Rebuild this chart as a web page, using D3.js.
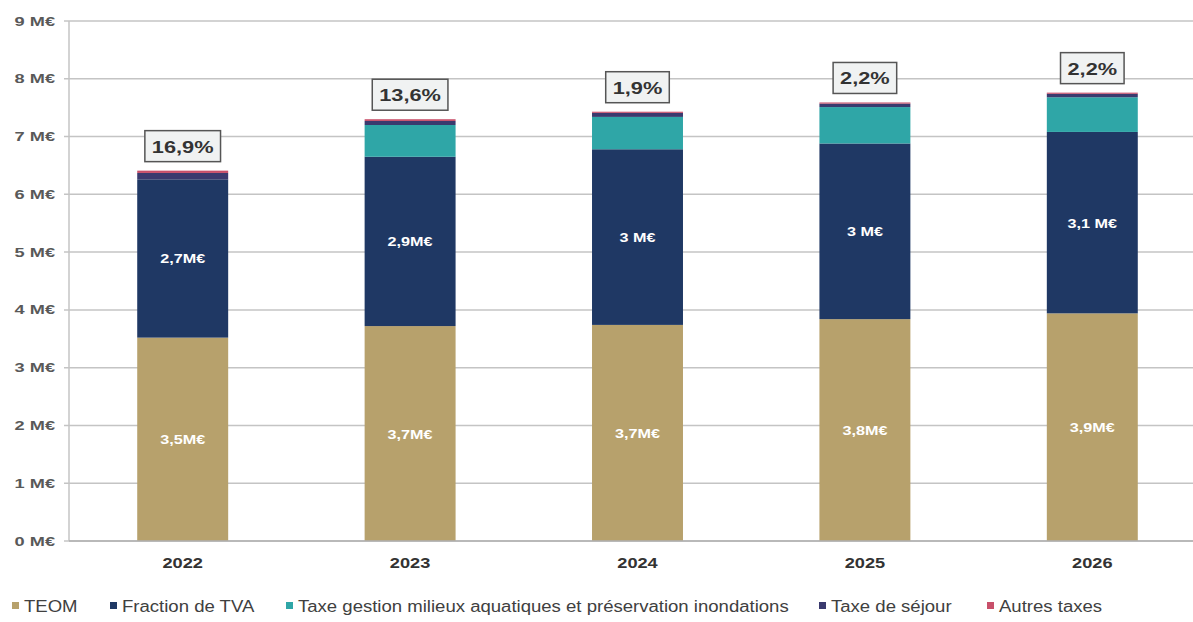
<!DOCTYPE html>
<html lang="fr">
<head>
<meta charset="utf-8">
<script src="https://cdn.jsdelivr.net/npm/d3@7/dist/d3.min.js"></script>
<style>
  html, body { margin: 0; padding: 0; background: #ffffff; }
  svg { display: block; font-family: "Liberation Sans", Arial, sans-serif; }
</style>
</head>
<body>
<svg id="chart" width="1193" height="622"></svg>
<script>
// Années
const years = ["2022", "2023", "2024", "2025", "2026"];

// Recettes fiscales par poste (M€)
const teom    = [3.52, 3.72, 3.74, 3.84, 3.94];
const tva     = [2.74, 2.93, 3.04, 3.04, 3.14];
const gemapi  = [0.00, 0.55, 0.56, 0.63, 0.60];
const sejour  = [0.11, 0.07, 0.07, 0.06, 0.06];
const autres  = [0.04, 0.03, 0.02, 0.02, 0.02];

// Libellés affichés dans les barres
const teomLabels = ["3,5M€", "3,7M€", "3,7M€", "3,8M€", "3,9M€"];
const tvaLabels  = ["2,7M€", "2,9M€", "3 M€", "3 M€", "3,1 M€"];

// Évolution annuelle du total
const growthLabels = ["16,9%", "13,6%", "1,9%", "2,2%", "2,2%"];

// Graduations de l'axe vertical
const yTicks = [0, 1, 2, 3, 4, 5, 6, 7, 8, 9];

const seriesNames  = ["TEOM", "Fraction de TVA", "Taxe gestion milieux aquatiques et préservation inondations", "Taxe de séjour", "Autres taxes"];
const seriesKeys   = ["teom", "tva", "gemapi", "sejour", "autres"];
const seriesColors = ["#b7a16c", "#1f3864", "#2fa6a7", "#3a3a6e", "#c8506a"];

const rows = years.map((y, i) => ({
  year: y, teom: teom[i], tva: tva[i], gemapi: gemapi[i], sejour: sejour[i], autres: autres[i]
}));

const svg = d3.select("#chart");
const W = 1193;

// Texte élargi horizontalement (police étirée)
function wideText(parent, x, y, str, sx, anchor) {
  return parent.append("text")
    .attr("transform", `translate(${x},${y}) scale(${sx},1)`)
    .attr("text-anchor", anchor || "start")
    .text(str);
}

const x = d3.scaleBand().domain(years).range([69, 1206]).paddingInner(0.6).paddingOuter(0.3);
const y = d3.scaleLinear().domain([0, 9]).range([541, 21]);

// Quadrillage horizontal
svg.append("g")
  .selectAll("line")
  .data(yTicks)
  .join("line")
  .attr("x1", 64).attr("x2", W)
  .attr("y1", d => y(d)).attr("y2", d => y(d))
  .attr("stroke", "#c4c4c4").attr("stroke-width", 1.5);

// Axe vertical
svg.append("line")
  .attr("x1", 69).attr("x2", 69).attr("y1", y(9)).attr("y2", y(0))
  .attr("stroke", "#c4c4c4").attr("stroke-width", 1.5);

// Libellés de l'axe vertical
const yLab = svg.append("g")
  .attr("font-size", 13).attr("font-weight", "bold").attr("fill", "#595959");
yTicks.forEach(t => wideText(yLab, 55, y(t) + 4.5, t + " M€", 1.4, "end"));

// Barres empilées
const stack = d3.stack().keys(seriesKeys)(rows);
svg.append("g")
  .selectAll("g")
  .data(stack)
  .join("g")
  .attr("fill", (d, i) => seriesColors[i])
  .selectAll("rect")
  .data(d => d)
  .join("rect")
  .attr("x", d => x(d.data.year))
  .attr("width", x.bandwidth())
  .attr("y", d => y(d[1]))
  .attr("height", d => y(d[0]) - y(d[1]));

// Libellés des segments TEOM et TVA
const segLabels = svg.append("g")
  .attr("font-size", 13.5).attr("font-weight", "bold").attr("fill", "#ffffff");
rows.forEach((r, i) => {
  const cx = x(r.year) + x.bandwidth() / 2;
  wideText(segLabels, cx, y(r.teom / 2) + 5, teomLabels[i], 1.2, "middle");
  wideText(segLabels, cx, y(r.teom + r.tva / 2) + 5, tvaLabels[i], 1.2, "middle");
});

// Étiquettes d'évolution au-dessus des barres
const growth = svg.append("g");
rows.forEach((r, i) => {
  const total = seriesKeys.reduce((s, k) => s + r[k], 0);
  const cx = x(r.year) + x.bandwidth() / 2;
  const boxBottom = y(total) - 9;
  const g = growth.append("g")
    .attr("font-size", 17).attr("font-weight", "bold").attr("fill", "#333333");
  const sx = 1.28;
  const t = wideText(g, cx, boxBottom - 9, growthLabels[i], sx, "middle");
  const w = t.node().getComputedTextLength() * sx + 14;
  g.insert("rect", "text")
    .attr("x", cx - w / 2).attr("y", boxBottom - 31)
    .attr("width", w).attr("height", 31)
    .attr("fill", "#f0f2f2").attr("stroke", "#555555").attr("stroke-width", 1.5);
});

// Axe horizontal
svg.append("line")
  .attr("x1", 69).attr("x2", W).attr("y1", y(0)).attr("y2", y(0))
  .attr("stroke", "#b0b0b0").attr("stroke-width", 1.5);

const xLab = svg.append("g")
  .attr("font-size", 14).attr("font-weight", "bold").attr("fill", "#333333");
years.forEach(yr => wideText(xLab, x(yr) + x.bandwidth() / 2, 568, yr, 1.3, "middle"));

// Légende
const legendX = [12, 110, 286, 819, 987];
const legend = svg.append("g").attr("font-size", 16).attr("fill", "#404040");
seriesNames.forEach((name, i) => {
  legend.append("rect")
    .attr("x", legendX[i]).attr("y", 602)
    .attr("width", 7).attr("height", 7)
    .attr("fill", seriesColors[i]);
  wideText(legend, legendX[i] + 12, 611.5, name, 1.16, "start");
});
</script>
</body>
</html>
